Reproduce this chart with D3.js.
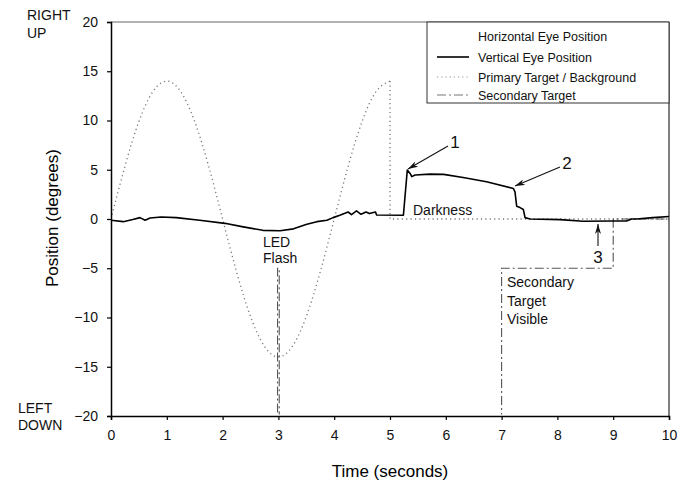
<!DOCTYPE html>
<html><head><meta charset="utf-8">
<script src="https://cdn.jsdelivr.net/npm/d3@7"></script>
<style>
html,body{margin:0;padding:0;background:#fff;}
svg{display:block;font-family:"Liberation Sans",Arial,sans-serif;}
</style></head>
<body><svg id="c" width="690" height="482"></svg>
<script>
// ---- data ----
const xTicks = [0,1,2,3,4,5,6,7,8,9,10];
const yTicks = [-20,-15,-10,-5,0,5,10,15,20];

// Primary target / background (dotted) - sinusoid part then darkness at 0
const targetT = [0,0.25,0.5,0.75,1,1.25,1.5,1.75,2,2.25,2.5,2.75,3,3.25,3.5,3.75,4,4.25,4.5,4.75,5];
const targetV = [0,5.36,9.9,12.93,14,12.93,9.9,5.36,0,-5.36,-9.9,-12.93,-14,-12.93,-9.9,-5.36,0,5.36,9.9,12.93,14];
const darkT = [5,5,10];
const darkV = [14,0,0];

// Vertical eye position (solid)
const eyeT = [0,0.22,0.39,0.52,0.61,0.70,0.90,1.17,1.59,2.04,2.37,2.72,3.03,3.27,3.51,3.69,3.87,3.98,4.10,4.25,4.31,4.40,4.48,4.57,4.63,4.74,4.76,5.24,5.31,5.36,5.39,5.45,5.72,5.96,6.31,6.73,7.21,7.24,7.27,7.33,7.39,7.42,7.51,8.05,8.46,9.00,9.24,9.33,9.42,9.71,10];
const eyeV = [-0.13,-0.27,-0.06,0.14,-0.13,0.1,0.2,0.14,-0.13,-0.44,-0.8,-1.15,-1.2,-1.0,-0.54,-0.27,-0.13,0.14,0.38,0.71,0.45,0.82,0.48,0.71,0.55,0.71,0.41,0.38,4.97,4.63,4.3,4.46,4.56,4.53,4.22,3.78,3.1,2.76,1.3,1.16,0.96,0.14,0,-0.06,-0.23,-0.2,-0.2,0,0,0.14,0.25];

// Secondary target (dash-dot)
const secT = [0,2.985,2.985,3.015,3.015,7,7,9,9,10];
const secV = [-20,-20,-5,-5,-20,-20,-5,-5,0,0];

const legendItems = ["Horizontal Eye Position","Vertical Eye Position","Primary Target / Background","Secondary Target"];

// ---- chart ----
const svg = d3.select("#c");
const L=111, R=669, T=22, B=416;
const x = d3.scaleLinear().domain([0,10]).range([L,R]);
const y = d3.scaleLinear().domain([-20,20]).range([B,T]);

const defs = svg.append("defs");
defs.append("marker").attr("id","ah").attr("viewBox","0 0 10 6").attr("refX",10).attr("refY",3)
  .attr("markerWidth",10).attr("markerHeight",6).attr("markerUnits","userSpaceOnUse").attr("orient","auto")
  .append("path").attr("d","M0,0 L10,3 L0,6 L3,3 Z").attr("fill","#111");
defs.append("clipPath").attr("id","clip").append("rect").attr("x",L).attr("y",T).attr("width",R-L).attr("height",B-T-1.5);

const pts = (ts,vs)=>ts.map((t,i)=>[t,vs[i]]);
const lin = d3.line().x(d=>x(d[0])).y(d=>y(d[1]));

// frame (top/right)
svg.append("line").attr("x1",L).attr("x2",R).attr("y1",T).attr("y2",T).attr("stroke","#666").attr("stroke-width",1.2);
svg.append("line").attr("x1",R).attr("x2",R).attr("y1",T).attr("y2",B).attr("stroke","#555").attr("stroke-width",1.5);

const plot = svg.append("g").attr("clip-path","url(#clip)");

// primary target dotted
plot.append("path").attr("d",d3.line().curve(d3.curveNatural).x(d=>x(d[0])).y(d=>y(d[1]))(pts(targetT,targetV)))
  .attr("fill","none").attr("stroke","#777").attr("stroke-width",1.3).attr("stroke-dasharray","1.2,3.2");
plot.append("path").attr("d",lin(pts(darkT,darkV)))
  .attr("fill","none").attr("stroke","#777").attr("stroke-width",1.3).attr("stroke-dasharray","1.2,3.2");

// secondary target dash-dot
plot.append("path").attr("d",lin(pts(secT,secV)))
  .attr("fill","none").attr("stroke","#555").attr("stroke-width",1.1).attr("stroke-dasharray","9,3,2,3");

// eye position
svg.append("path").attr("d",lin(pts(eyeT,eyeV)))
  .attr("fill","none").attr("stroke","#000").attr("stroke-width",1.6).attr("stroke-linejoin","round");

// axes
const xAxis = svg.append("g").attr("transform",`translate(0,${B})`)
  .call(d3.axisBottom(x).tickValues(xTicks).tickSize(4).tickPadding(10).tickFormat(d3.format("d")));
const yAxis = svg.append("g").attr("transform",`translate(${L},0)`)
  .call(d3.axisLeft(y).tickValues(yTicks).tickSize(4).tickPadding(9).tickFormat(d3.format("d")));
[xAxis,yAxis].forEach(g=>{
  g.select(".domain").attr("stroke","#000").attr("stroke-width",1.5);
  g.selectAll(".tick line").attr("stroke","#000").attr("stroke-width",1.2);
  g.selectAll(".tick text").attr("font-size",14).attr("fill","#111").attr("font-family","Liberation Sans, Arial, sans-serif");
});

// axis titles
svg.append("text").attr("x",390).attr("y",477).attr("text-anchor","middle").attr("font-size",17).text("Time (seconds)");
svg.append("text").attr("transform","translate(58,218) rotate(-90)").attr("text-anchor","middle").attr("font-size",17).text("Position (degrees)");

const txt = (s,xx,yy,fs,anchor)=>svg.append("text").attr("x",xx).attr("y",yy).attr("font-size",fs)
  .attr("text-anchor",anchor||"start").attr("fill","#111").text(s);
txt("RIGHT",27,20,14); txt("UP",27,38,14);
txt("LEFT",18,413,14); txt("DOWN",18,430,14);

// annotations
txt("LED",263,247,14); txt("Flash",263,263,14);
txt("Darkness",413,215,14);
txt("Secondary",507,287,14); txt("Target",507,306,14); txt("Visible",507,324,14);
txt("1",455,148,17,"middle"); txt("2",567,169,17,"middle"); txt("3",598,263,17,"middle");

const arrow=(x1,y1,x2,y2)=>svg.append("line").attr("x1",x1).attr("y1",y1).attr("x2",x2).attr("y2",y2)
  .attr("stroke","#111").attr("stroke-width",1.1).attr("marker-end","url(#ah)");
arrow(448,146,408,169);
arrow(560,167,515,186);
arrow(598,246,598,224);

// legend
const lg = svg.append("g");
lg.append("rect").attr("x",427).attr("y",T).attr("width",R-427).attr("height",81)
  .attr("fill","#fff").attr("stroke","#333").attr("stroke-width",1);
const ly=[36,57,77,95];
const lstyles=[{c:"#fff",d:null,w:1.5},{c:"#000",d:null,w:1.6},{c:"#999",d:"1.2,3",w:1.2},{c:"#777",d:"9,3,2,3",w:1.1}];
legendItems.forEach((s,i)=>{
  lg.append("line").attr("x1",437).attr("x2",469).attr("y1",ly[i]).attr("y2",ly[i])
    .attr("stroke",lstyles[i].c).attr("stroke-width",lstyles[i].w).attr("stroke-dasharray",lstyles[i].d);
  lg.append("text").attr("x",478).attr("y",ly[i]).attr("dy","0.36em").attr("font-size",12.5).attr("fill","#111").text(s);
});
</script></body></html>
